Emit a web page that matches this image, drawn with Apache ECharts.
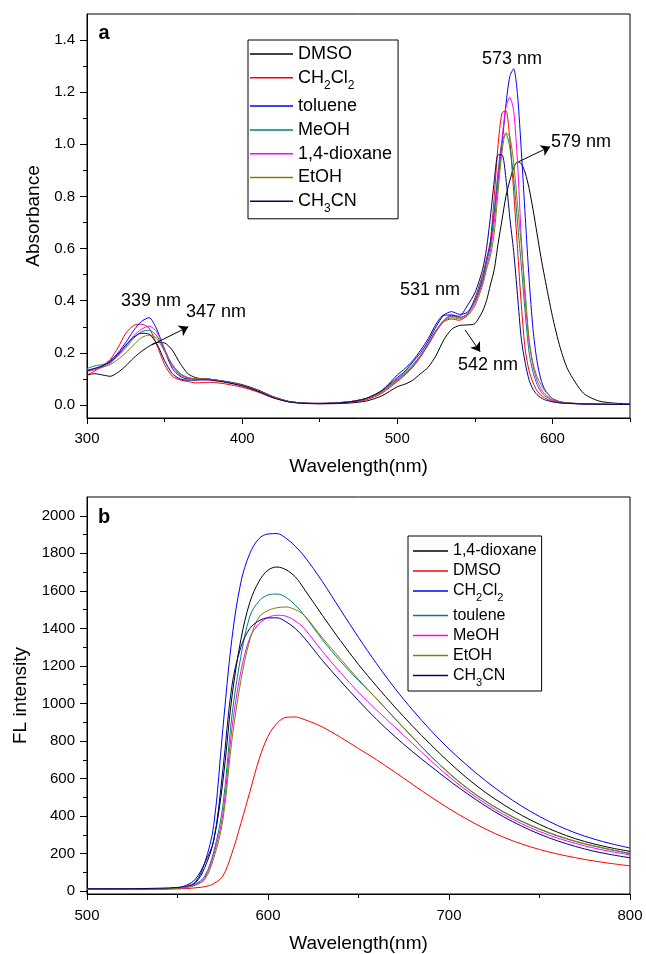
<!DOCTYPE html>
<html>
<head>
<meta charset="utf-8">
<script src="https://cdn.jsdelivr.net/npm/echarts@6/dist/echarts.min.js"></script>
<style>
html, body { margin: 0; padding: 0; background: #fff; }
#chart { width: 646px; height: 954px; }
</style>
</head>
<body>
<div id="chart"></div>
<script>
// ---- panel a : absorbance ----
var waveA = [300,305,310,315,320,325,330,335,340,345,350,355,360,365,370,375,380,
    390,400,410,420,430,440,450,460,470,480,490,
    500,505,510,515,520,525,530,535,540,545,550,
    555,557.5,560,562.5,565,567.5,570,572.5,575,577.5,580,582.5,585,587.5,590,592.5,595,
    600,605,610,620,630,640,650];

var absDMSO = [0.115,0.12,0.115,0.11,0.125,0.15,0.18,0.205,0.225,0.24,0.238,0.21,0.16,0.12,0.105,0.10,0.098,
    0.09,0.078,0.058,0.032,0.014,0.007,0.005,0.005,0.008,0.015,0.035,
    0.07,0.08,0.095,0.12,0.145,0.19,0.25,0.29,0.305,0.307,0.312,
    0.36,0.40,0.46,0.52,0.62,0.71,0.80,0.86,0.91,0.933,0.925,0.89,0.83,0.75,0.66,0.57,0.49,
    0.34,0.22,0.135,0.045,0.015,0.007,0.004];
var absCH2Cl2 = [0.115,0.13,0.15,0.175,0.22,0.275,0.305,0.31,0.295,0.23,0.155,0.11,0.096,0.09,0.085,0.086,0.087,
    0.08,0.068,0.05,0.027,0.012,0.006,0.005,0.006,0.01,0.02,0.045,
    0.09,0.115,0.145,0.185,0.235,0.285,0.32,0.33,0.325,0.345,0.41,
    0.50,0.56,0.63,0.80,1.0,1.12,1.13,1.02,0.82,0.60,0.38,0.21,0.13,0.085,0.055,0.038,0.027,
    0.014,0.008,0.006,0.004,0.003,0.002,0.002];
var absToluene = [0.13,0.14,0.15,0.17,0.20,0.24,0.285,0.32,0.335,0.29,0.21,0.14,0.11,0.10,0.10,0.10,0.098,
    0.088,0.075,0.055,0.03,0.013,0.007,0.006,0.008,0.013,0.025,0.055,
    0.105,0.13,0.165,0.20,0.245,0.30,0.345,0.358,0.348,0.355,0.40,
    0.48,0.55,0.62,0.74,0.87,1.0,1.15,1.26,1.29,1.19,0.97,0.72,0.48,0.29,0.17,0.10,0.06,
    0.025,0.012,0.008,0.004,0.003,0.002,0.002];
var absMeOH = [0.14,0.15,0.155,0.165,0.19,0.22,0.255,0.28,0.287,0.265,0.21,0.155,0.12,0.105,0.10,0.10,0.098,
    0.088,0.075,0.055,0.03,0.013,0.007,0.006,0.008,0.013,0.025,0.052,
    0.10,0.125,0.155,0.19,0.235,0.285,0.325,0.34,0.335,0.35,0.40,
    0.49,0.55,0.61,0.74,0.90,1.01,1.04,0.99,0.87,0.70,0.53,0.35,0.20,0.125,0.08,0.052,0.035,
    0.018,0.01,0.007,0.004,0.003,0.002,0.002];
var absDioxane = [0.13,0.135,0.145,0.16,0.19,0.225,0.265,0.29,0.303,0.28,0.215,0.15,0.115,0.105,0.10,0.10,0.098,
    0.088,0.075,0.055,0.03,0.013,0.007,0.006,0.008,0.013,0.025,0.05,
    0.095,0.12,0.15,0.19,0.235,0.285,0.325,0.345,0.335,0.345,0.39,
    0.47,0.53,0.59,0.70,0.86,1.02,1.14,1.18,1.13,0.93,0.63,0.40,0.24,0.15,0.095,0.063,0.042,
    0.02,0.011,0.007,0.004,0.003,0.002,0.002];
var absEtOH = [0.135,0.14,0.145,0.155,0.175,0.20,0.23,0.258,0.268,0.255,0.205,0.155,0.12,0.105,0.10,0.10,0.098,
    0.088,0.075,0.055,0.03,0.013,0.007,0.006,0.008,0.013,0.025,0.05,
    0.095,0.12,0.15,0.185,0.23,0.28,0.32,0.335,0.33,0.34,0.38,
    0.46,0.52,0.57,0.66,0.82,0.97,1.045,1.03,0.93,0.77,0.61,0.43,0.25,0.16,0.11,0.08,0.055,
    0.025,0.013,0.008,0.005,0.003,0.002,0.002];
var absCH3CN = [0.13,0.14,0.15,0.165,0.195,0.23,0.26,0.275,0.272,0.235,0.17,0.12,0.10,0.095,0.095,0.096,0.095,
    0.086,0.073,0.053,0.028,0.012,0.006,0.005,0.007,0.012,0.025,0.055,
    0.115,0.14,0.17,0.21,0.255,0.31,0.345,0.345,0.34,0.38,0.43,
    0.52,0.60,0.72,0.86,0.96,0.96,0.87,0.72,0.59,0.42,0.25,0.16,0.095,0.06,0.04,0.028,0.02,
    0.012,0.008,0.006,0.004,0.003,0.002,0.002];

var waveATicks = [300, 400, 500, 600];
var waveAMinor = [350, 450, 550, 650];
var absTicks = [0, 0.2, 0.4, 0.6, 0.8, 1.0, 1.2, 1.4];
var absMinor = [0.1, 0.3, 0.5, 0.7, 0.9, 1.1, 1.3];

// ---- panel b : fluorescence ----
var waveB = [500,520,540,550,555,560,565,570,575,580,585,590,595,600,605,610,615,620,
    630,640,650,660,670,680,690,700,710,720,730,740,750,760,770,780,790,800];

var flDioxane = [12,12,13,16,24,45,125,270,580,1030,1340,1540,1650,1710,1727,1712,1675,1610,
    1470,1335,1208,1092,982,878,780,687,602,527,462,405,356,314,279,252,230,212];
var flDMSO = [10,10,11,12,14,18,24,40,80,200,360,530,700,825,895,926,928,915,
    875,820,760,700,635,568,502,440,383,332,288,252,222,198,178,161,147,135];
var flCH2Cl2 = [12,12,14,18,26,50,150,350,860,1340,1645,1800,1878,1903,1905,1880,1838,1785,
    1650,1500,1352,1212,1082,964,856,758,670,590,518,454,398,350,310,278,252,230];
var flToulene = [12,12,13,16,22,38,80,210,450,930,1250,1465,1545,1578,1583,1565,1525,1470,
    1340,1225,1122,1025,920,818,718,628,548,480,422,372,330,294,264,240,219,200];
var flMeOH = [12,12,13,15,21,35,70,195,405,860,1170,1350,1425,1458,1470,1465,1440,1400,
    1278,1165,1060,965,875,785,695,610,535,468,410,360,318,283,254,230,210,194];
var flEtOH = [12,12,13,15,20,32,62,175,375,800,1120,1340,1460,1495,1510,1514,1500,1470,
    1350,1238,1128,1025,922,820,720,630,550,482,424,374,332,296,266,242,221,202];
var flCH3CN = [13,13,16,20,32,65,150,270,640,1090,1300,1400,1440,1456,1456,1435,1400,1350,
    1230,1120,1015,915,825,742,665,590,520,455,397,347,304,268,238,213,194,178];

var waveBTicks = [500, 600, 700, 800];
var waveBMinor = [550, 650, 750];
var flTicks = [0, 200, 400, 600, 800, 1000, 1200, 1400, 1600, 1800, 2000];
var flMinor = [100, 300, 500, 700, 900, 1100, 1300, 1500, 1700, 1900];

// peak labels of panel a, arrows in data units
var arrowsA = [
    [[341.7, 0.230], [365.3, 0.300]],
    [[543.7, 0.288], [553.4, 0.204]],
    [[578.1, 0.933], [598.5, 0.991]]
];

var FONT = '"Liberation Sans", Arial, Helvetica, sans-serif';

var chart = echarts.init(document.getElementById('chart'));

function pairs(xs, ys) {
    return xs.map(function (x, i) { return [x, ys[i]]; });
}

var subNames = { 'CH2Cl2': 'CH{sub|2}Cl{sub|2}', 'CH3CN': 'CH{sub|3}CN' };
function legendText(name) {
    var n = name.slice(2);
    return subNames[n] || n;
}

function mainAxis(gi, min, max, ticks, fmt, name, gap, margin, tickLen) {
    return {
        type: 'value', gridIndex: gi, min: min, max: max,
        axisLine: { show: true, onZero: false, lineStyle: { color: '#000', width: 1 } },
        axisTick: { show: true, inside: false, length: tickLen, customValues: ticks, lineStyle: { color: '#000', width: 1 } },
        axisLabel: { customValues: ticks, formatter: fmt, color: '#000', fontSize: 15, fontFamily: FONT, margin: margin },
        splitLine: { show: false },
        name: name, nameLocation: 'middle', nameGap: gap,
        nameTextStyle: { fontSize: 19, color: '#000', fontFamily: FONT }
    };
}
function minorAxis(gi, min, max, ticks, pos) {
    return {
        type: 'value', gridIndex: gi, min: min, max: max, position: pos,
        axisLine: { show: false, onZero: false },
        axisTick: { show: true, inside: false, length: 4, customValues: ticks, lineStyle: { color: '#000', width: 1 } },
        axisLabel: { show: false },
        splitLine: { show: false }
    };
}

var listA = [
    ['a:DMSO', absDMSO, '#000000'],
    ['a:CH2Cl2', absCH2Cl2, '#ff0000'],
    ['a:toluene', absToluene, '#0000ff'],
    ['a:MeOH', absMeOH, '#008080'],
    ['a:1,4-dioxane', absDioxane, '#ff00ff'],
    ['a:EtOH', absEtOH, '#808000'],
    ['a:CH3CN', absCH3CN, '#000080']
];
var listB = [
    ['b:1,4-dioxane', flDioxane, '#000000'],
    ['b:DMSO', flDMSO, '#ff0000'],
    ['b:CH2Cl2', flCH2Cl2, '#0000ff'],
    ['b:toulene', flToulene, '#008080'],
    ['b:MeOH', flMeOH, '#ff00ff'],
    ['b:EtOH', flEtOH, '#808000'],
    ['b:CH3CN', flCH3CN, '#000080']
];

var series = [];
listA.forEach(function (s) {
    series.push({
        type: 'line', name: s[0], xAxisIndex: 0, yAxisIndex: 0,
        data: pairs(waveA, s[1]), symbol: 'none', smooth: 0.25,
        lineStyle: { width: 1, color: s[2] }, itemStyle: { color: s[2] }
    });
});
listB.forEach(function (s) {
    series.push({
        type: 'line', name: s[0], xAxisIndex: 2, yAxisIndex: 2,
        data: pairs(waveB, s[1]), symbol: 'none', smooth: 0.35,
        lineStyle: { width: 1, color: s[2] }, itemStyle: { color: s[2] }
    });
});
series[0].markLine = {
    silent: true, symbol: ['none', 'arrow'], symbolSize: 9,
    lineStyle: { color: '#000', width: 1, type: 'solid' },
    label: { show: false },
    data: arrowsA.map(function (a) { return [{ coord: a[0] }, { coord: a[1] }]; })
};

function txt(x, y, s, size, bold) {
    return {
        type: 'text', x: x, y: y, z: 100,
        style: { text: s, fill: '#000', font: (bold ? 'bold ' : '') + size + 'px ' + FONT, align: 'center', verticalAlign: 'middle' }
    };
}

var option = {
    animation: false,
    backgroundColor: '#fff',
    grid: [
        { left: 87, right: 16, top: 14, height: 404, show: true, borderColor: '#000', borderWidth: 1 },
        { left: 87, right: 16, top: 497, height: 406, show: true, borderColor: '#000', borderWidth: 1 }
    ],
    xAxis: [
        mainAxis(0, 300, 650, waveATicks, function (v) { return v; }, 'Wavelength(nm)', 39, 13, 6),
        minorAxis(0, 300, 650, waveAMinor, 'bottom'),
        mainAxis(1, 500, 800, waveBTicks, function (v) { return v; }, 'Wavelength(nm)', 40, 14, 6),
        minorAxis(1, 500, 800, waveBMinor, 'bottom')
    ],
    yAxis: [
        mainAxis(0, -0.05, 1.5, absTicks, function (v) { return v.toFixed(1); }, 'Absorbance', 42, 12, 7),
        minorAxis(0, -0.05, 1.5, absMinor, 'left'),
        mainAxis(1, -15, 2100, flTicks, function (v) { return v; }, 'FL intensity', 42, 12, 7),
        minorAxis(1, -15, 2100, flMinor, 'left')
    ],
    legend: [
        {
            orient: 'vertical', left: 248, top: 40,
            data: listA.map(function (s) { return s[0]; }),
            icon: 'rect', itemWidth: 43, itemHeight: 1.5, itemGap: 5.8, padding: [5, 6, 4, 2],
            borderColor: '#000', borderWidth: 1, selectedMode: false,
            formatter: legendText,
            textStyle: {
                fontSize: 18, lineHeight: 16, color: '#000', fontFamily: FONT,
                rich: { sub: { fontSize: 12, padding: [13.5, 0, -1.5, 0], color: '#000', fontFamily: FONT } }
            }
        },
        {
            orient: 'vertical', left: 408, top: 536,
            data: listB.map(function (s) { return s[0]; }),
            icon: 'rect', itemWidth: 35, itemHeight: 1.5, itemGap: 4.0, padding: [7, 5, 3, 5],
            borderColor: '#000', borderWidth: 1, selectedMode: false,
            formatter: legendText,
            textStyle: {
                fontSize: 16, lineHeight: 14, color: '#000', fontFamily: FONT,
                rich: { sub: { fontSize: 11, padding: [11.75, 0, -2.25, 0], color: '#000', fontFamily: FONT } }
            }
        }
    ],
    graphic: [
        txt(104, 33, 'a', 20, true),
        txt(104, 517, 'b', 20, true),
        txt(151, 301, '339 nm', 18),
        txt(216, 312, '347 nm', 18),
        txt(430, 290, '531 nm', 18),
        txt(488, 365, '542 nm', 18),
        txt(512, 59, '573 nm', 18),
        txt(581, 142, '579 nm', 18)
    ],
    series: series
};

chart.setOption(option);
</script>
</body>
</html>
